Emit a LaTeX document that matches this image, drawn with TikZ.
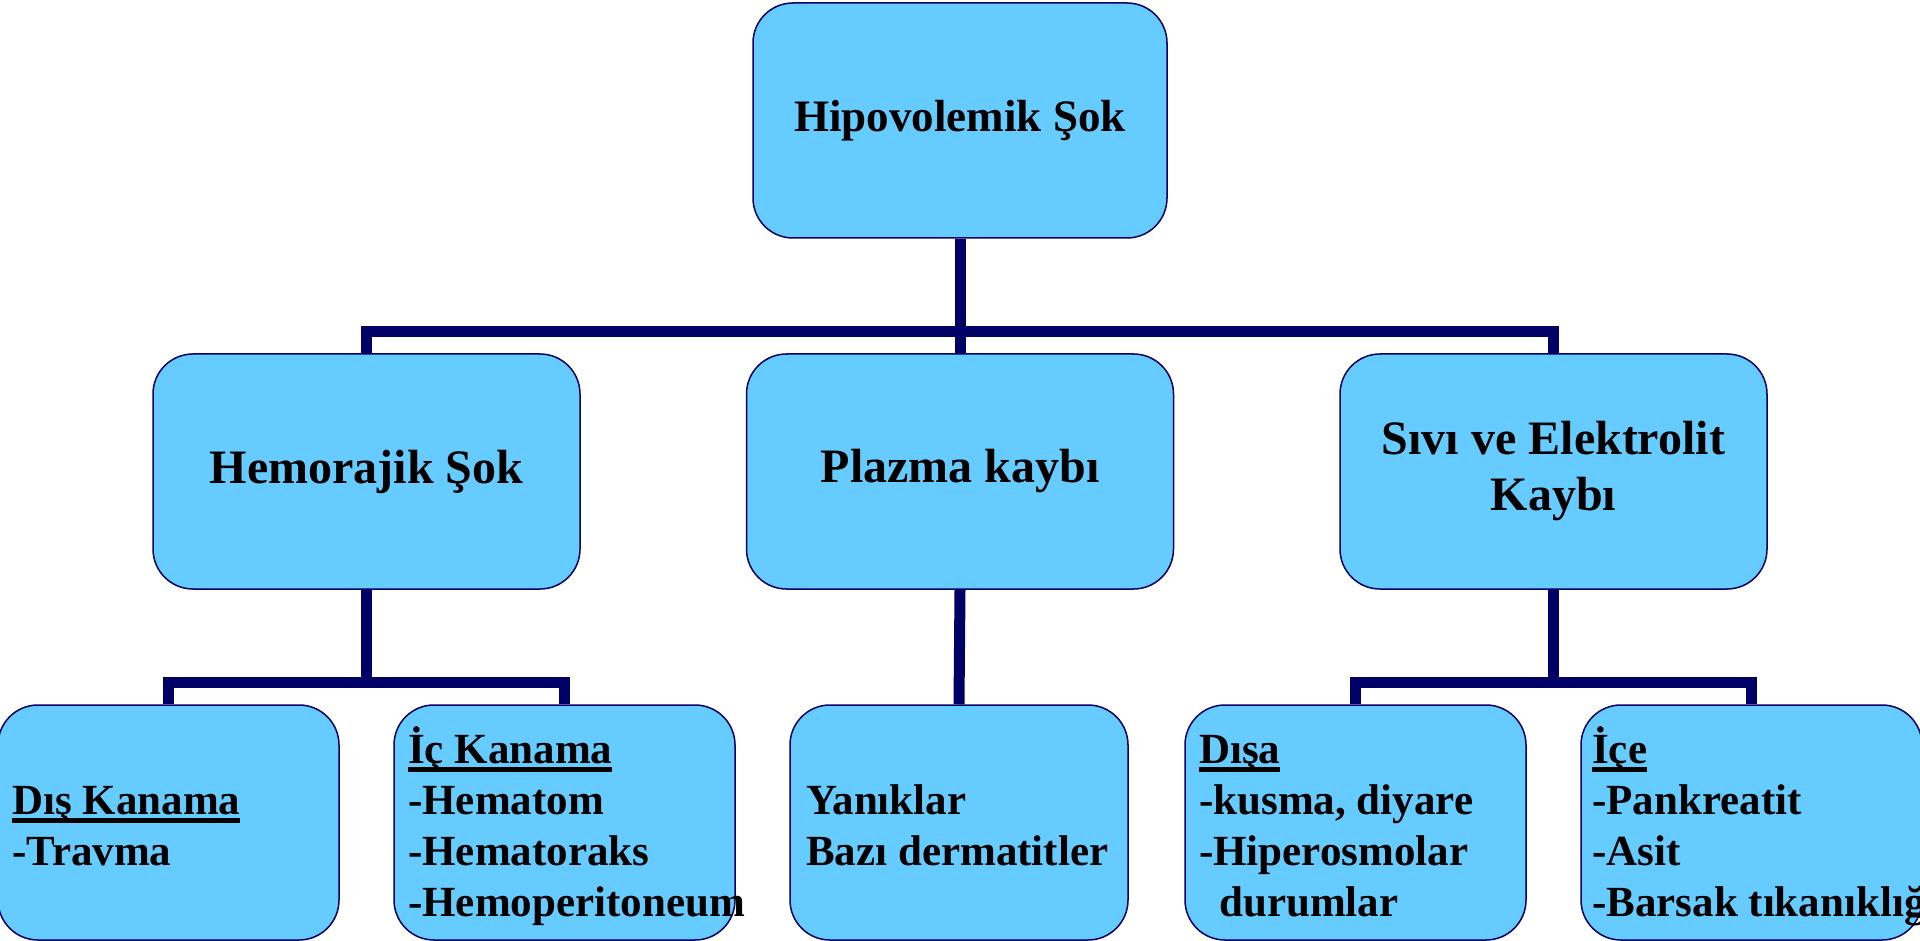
\documentclass[tikz,border=0pt]{standalone}
\usepackage{fontspec}
\setmainfont{Liberation Serif}
\definecolor{boxfill}{HTML}{66CCFF}
\definecolor{navy}{HTML}{000066}
\newcommand\ulx[1]{\setbox0\hbox{#1}\rlap{\rule[-8.5pt]{\wd0}{4.5pt}}\box0}
\tikzset{
  box/.style={draw=navy, line width=1.5pt, fill=boxfill, rounded corners=40pt,
    minimum height=235pt, inner sep=0pt, align=center, text=black,
    font=\bfseries\fontsize{48}{56}\selectfont},
  conn/.style={draw=navy, line width=11pt},
  lbl/.style={anchor=base west, inner sep=0pt, text=black,
    font=\bfseries\fontsize{43}{50}\selectfont},
}
\begin{document}
\begin{tikzpicture}[x=1pt,y=-1pt]
\useasboundingbox (0,0) rectangle (1920,941);
% boxes
\node[box, minimum width=414pt, font=\bfseries\fontsize{45}{54}\selectfont] (top) at (960,120.5) {Hipovolemik Şok};
\node[box, minimum width=427pt] (hemo) at (366.5,471.5) {Hemorajik Şok};
\node[box, minimum width=427pt] (plazma) at (960,471.5) {Plazma kaybı};
\node[box, minimum width=427pt] (sivi) at (1553.5,471.5) {Sıvı ve Elektrolit\\Kaybı};
\node[box, minimum width=341pt] (dis) at (168.5,822.5) {};
\node[box, minimum width=341pt] (ic) at (564.5,822.5) {};
\node[box, minimum width=338pt] (yanik) at (959,822.5) {};
\node[box, minimum width=341pt] (disa) at (1355.5,822.5) {};
\node[box, minimum width=341pt] (ice) at (1751.5,822.5) {};
% connectors
\coordinate (bar1) at (960,331.5);
\coordinate (bar2) at (366.5,682);
\coordinate (bar3) at (1553.5,682);
\draw[conn] (top.south) -- (plazma.north);
\draw[conn] (hemo.north) |- (bar1) -| (sivi.north);
\draw[conn] (hemo.south) -- (hemo.south |- bar2);
\draw[conn] (dis.north) |- (bar2) -| (ic.north);
\draw[conn] (plazma.south) -- (yanik.north);
\draw[conn] (sivi.south) -- (sivi.south |- bar3);
\draw[conn] (disa.north) |- (bar3) -| (ice.north);
% bottom texts
\node[lbl] (t1) at (12,814) {\ulx{Dış Kanama}};
\node[lbl] (t2) at (12,865) {-Travma};
\node[lbl] (t3) at (408,763) {\ulx{İç Kanama}};
\node[lbl] (t4) at (408,814) {-Hematom};
\node[lbl] (t5) at (408,865) {-Hematoraks};
\node[lbl] (t6) at (408,916) {-Hemoperitoneum};
\node[lbl] (t7) at (806,814) {Yanıklar};
\node[lbl] (t8) at (806,865) {Bazı dermatitler};
\node[lbl] (t9) at (1199,763) {\ulx{Dışa}};
\node[lbl] (t10) at (1199,814) {-kusma, diyare};
\node[lbl] (t11) at (1199,865) {-Hiperosmolar};
\node[lbl] (t12) at (1219,916) {durumlar};
\node[lbl] (t13) at (1592,763) {\ulx{İçe}};
\node[lbl] (t14) at (1592,814) {-Pankreatit};
\node[lbl] (t15) at (1592,865) {-Asit};
\node[lbl] (t16) at (1592,916) {-Barsak tıkanıklığı};
\end{tikzpicture}
\end{document}
